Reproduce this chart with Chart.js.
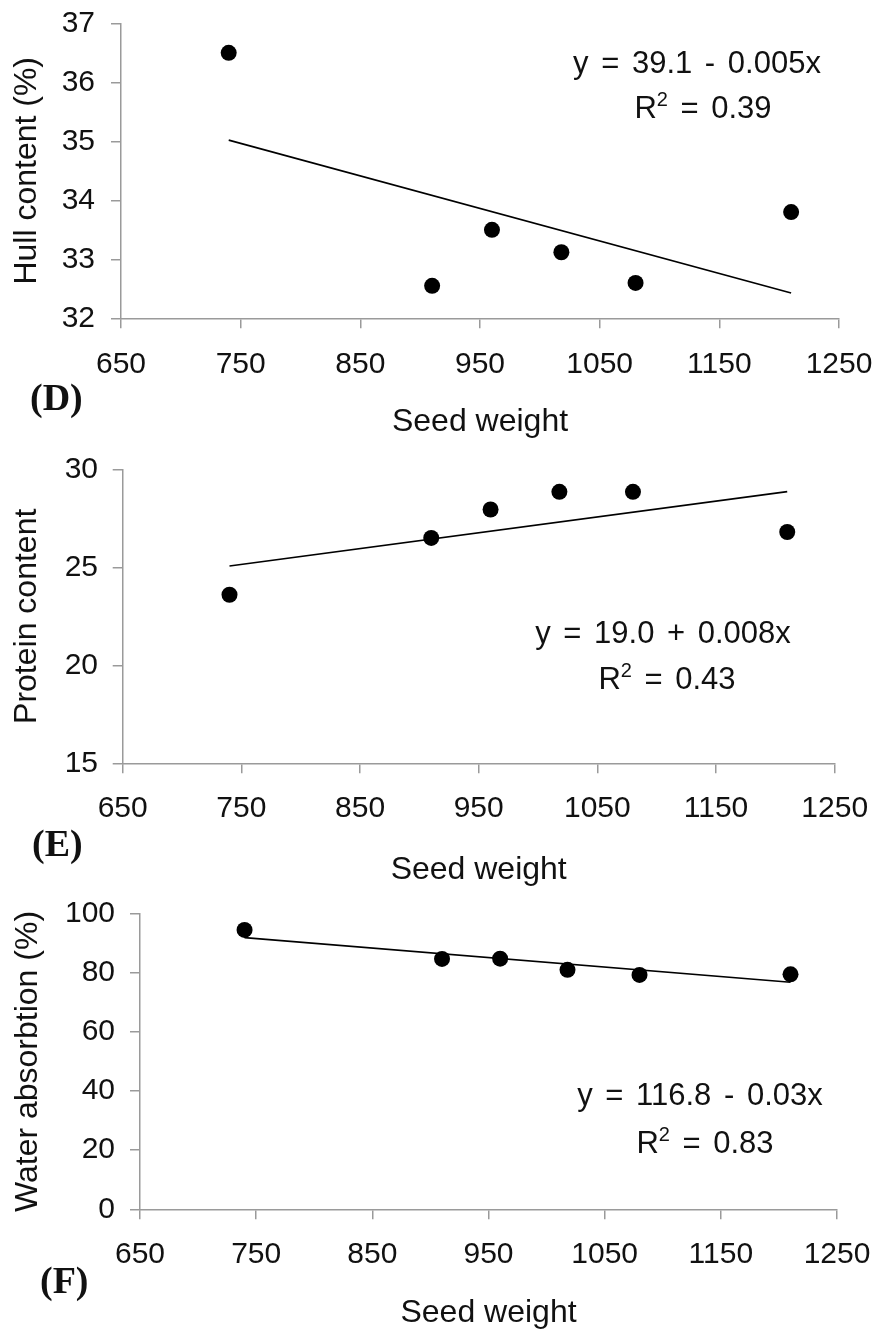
<!DOCTYPE html>
<html><head><meta charset="utf-8">
<script src="https://cdn.jsdelivr.net/npm/chart.js@4.4.1/dist/chart.umd.min.js"></script>
<style>
html,body{margin:0;padding:0;background:#fff;}
body{width:879px;height:1333px;position:relative;overflow:hidden;font-family:"Liberation Sans",Arial,sans-serif;}
.panel{position:absolute;left:0;width:879px;}
.eq{position:absolute;width:400px;text-align:center;font-size:31px;line-height:36px;color:#111;white-space:pre;word-spacing:4px;}
.eq .sup{font-size:20px;position:relative;top:-12px;}
.lbl{position:absolute;font-family:"Liberation Serif","Times New Roman",serif;font-weight:bold;font-size:38px;line-height:44px;color:#111;}
</style></head><body>
<div class="panel" id="pD"><canvas id="cD"></canvas></div>
<div class="panel" id="pE"><canvas id="cE"></canvas></div>
<div class="panel" id="pF"><canvas id="cF"></canvas></div>
<script>
// ---- data ----
const seedWeight = [740, 910, 960, 1018, 1080, 1210];
const hullContent = [36.5, 32.55, 33.5, 33.12, 32.6, 33.8];
const proteinContent = [23.6, 26.5, 27.95, 28.85, 28.85, 26.8];
const waterAbsorption = [94.5, 84.7, 84.8, 81.0, 79.3, 79.5];
const trendX = [740, 1210];
const hullTrend = [35.02, 32.43];
const proteinTrend = [25.07, 28.86];
const waterTrend = [91.9, 76.8];
const xTickValues = [650, 750, 850, 950, 1050, 1150, 1250];
const hullTicks = [32, 33, 34, 35, 36, 37];
const proteinTicks = [15, 20, 25, 30];
const waterTicks = [0, 20, 40, 60, 80, 100];
const xTitle = 'Seed weight';
const yTitles = ['Hull content (%)', 'Protein content', 'Water absorbtion (%)'];
const panelLabels = ['(D)', '(E)', '(F)'];
const equations = ['y = 39.1 - 0.005x', 'y = 19.0 + 0.008x', 'y = 116.8 - 0.03x'];
const rSquared = ['0.39', '0.43', '0.83'];

// ---- layout (pixels) ----
const FONT = '"Liberation Sans", Arial, sans-serif';
const TICK_SIZE = 30, TITLE_SIZE = 32, TICK_LEN = 10;
const panels = [
  {key:'D', top:0, height:445, area:{top:23.3, bottom:318.3, left:121, right:839}, xTitleY:422, yTitleX:27, xLabelY:365, yLabelRight:95,
   y:hullContent, trend:hullTrend, ticks:hullTicks, eq:[697,63,703,108], lbl:[30,399]},
  {key:'E', top:440, height:450, area:{top:469.3, bottom:763.3, left:122.7, right:834.7}, xTitleY:870, yTitleX:27, xLabelY:809, yLabelRight:98,
   y:proteinContent, trend:proteinTrend, ticks:proteinTicks, eq:[663,633,667,679], lbl:[32,845]},
  {key:'F', top:880, height:453, area:{top:913.7, bottom:1209.3, left:140, right:837}, xTitleY:1313, yTitleX:28, xLabelY:1255, yLabelRight:115,
   y:waterAbsorption, trend:waterTrend, ticks:waterTicks, eq:[700,1095,705,1143], lbl:[40,1282]}
];

function zeroPad(s) { s.paddingTop = 0; s.paddingBottom = 0; s.paddingLeft = 0; s.paddingRight = 0; }

panels.forEach((p, i) => {
  const div = document.getElementById('p' + p.key);
  div.style.top = p.top + 'px';
  div.style.height = p.height + 'px';
  const a = p.area;
  const xScaleH = p.height - (a.bottom - p.top);
  const tickHalf = TICK_SIZE * 1.2 / 2, titleHalf = TITLE_SIZE * 1.2 / 2;
  const axisColor = '#9a9a9a';
  new Chart(document.getElementById('c' + p.key), {
    type: 'scatter',
    data: {
      datasets: [
        {data: seedWeight.map((x, k) => ({x, y: p.y[k]})), pointRadius: 8, pointHoverRadius: 8,
         backgroundColor: '#000', borderColor: '#000', borderWidth: 0, showLine: false},
        {data: trendX.map((x, k) => ({x, y: p.trend[k]})), showLine: true, pointRadius: 0,
         borderColor: '#000', borderWidth: 1.6, fill: false}
      ]
    },
    options: {
      responsive: true, maintainAspectRatio: false, animation: false,
      events: [],
      layout: {padding: {top: a.top - p.top, left: 0, right: 879 - a.right, bottom: 0}},
      plugins: {legend: {display: false}, tooltip: {enabled: false}},
      scales: {
        x: {
          type: 'linear', position: 'bottom', min: xTickValues[0], max: xTickValues[xTickValues.length - 1],
          afterBuildTicks: s => { s.ticks = xTickValues.map(v => ({value: v})); },
          afterFit: s => { s.height = xScaleH; zeroPad(s); },
          grid: {display: true, drawOnChartArea: false, drawTicks: true, tickLength: TICK_LEN, color: axisColor, lineWidth: 1.5},
          border: {display: true, color: axisColor, width: 1.5},
          ticks: {color: '#111', font: {family: FONT, size: TICK_SIZE}, maxRotation: 0, autoSkip: false,
                  callback: v => String(v),
                  padding: p.xLabelY - a.bottom - TICK_LEN - tickHalf},
          title: {display: true, text: xTitle, color: '#111', font: {family: FONT, size: TITLE_SIZE},
                  padding: {top: 0, bottom: (p.top + p.height) - p.xTitleY - titleHalf}}
        },
        y: {
          type: 'linear', position: 'left', min: p.ticks[0], max: p.ticks[p.ticks.length - 1],
          afterBuildTicks: s => { s.ticks = p.ticks.map(v => ({value: v})); },
          afterFit: s => { s.width = a.left; zeroPad(s); },
          grid: {display: true, drawOnChartArea: false, drawTicks: true, tickLength: TICK_LEN, color: axisColor, lineWidth: 1.5},
          border: {display: true, color: axisColor, width: 1.5},
          ticks: {color: '#111', font: {family: FONT, size: TICK_SIZE}, autoSkip: false,
                  callback: v => String(v),
                  padding: a.left - p.yLabelRight - TICK_LEN},
          title: {display: true, text: yTitles[i], color: '#111', font: {family: FONT, size: TITLE_SIZE},
                  padding: {top: p.yTitleX - titleHalf, bottom: 0}}
        }
      }
    }
  });
  // equation text
  const e1 = document.createElement('div');
  e1.className = 'eq'; e1.textContent = equations[i];
  e1.style.left = (p.eq[0] - 200) + 'px'; e1.style.top = (p.eq[1] - 18) + 'px';
  document.body.appendChild(e1);
  const e2 = document.createElement('div');
  e2.className = 'eq';
  e2.innerHTML = 'R<span class="sup">2</span> = ' + rSquared[i];
  e2.style.left = (p.eq[2] - 200) + 'px'; e2.style.top = (p.eq[3] - 18) + 'px';
  document.body.appendChild(e2);
  const l = document.createElement('div');
  l.className = 'lbl'; l.textContent = panelLabels[i];
  l.style.left = p.lbl[0] + 'px'; l.style.top = (p.lbl[1] - 24) + 'px';
  document.body.appendChild(l);
});
</script>
</body></html>
